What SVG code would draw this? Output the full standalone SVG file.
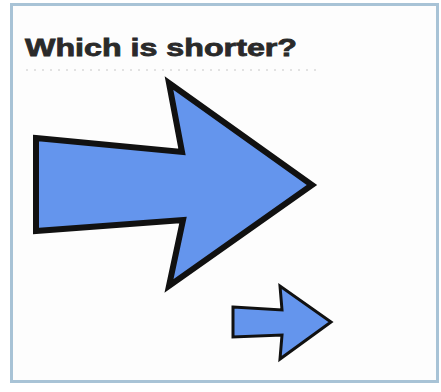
<svg xmlns="http://www.w3.org/2000/svg" width="441" height="392" viewBox="0 0 441 392">
<style>
.arrow{fill:#6495ed;stroke:#111;stroke-linejoin:miter;}
.title{font-family:"Liberation Sans",Arial,sans-serif;font-weight:bold;fill:#2a2a2a;stroke:#2a2a2a;stroke-width:0.8;}
</style>
<rect x="0" y="0" width="441" height="392" fill="#ffffff"/>
<rect x="11.5" y="4.5" width="426" height="377" fill="#fdfdfd" stroke="#a8c3d6" stroke-width="3"/>
<line x1="26" y1="70" x2="320" y2="70" stroke="#e2e2e2" stroke-width="2" stroke-dasharray="2 6"/>
<g id="title"><text class="title" x="25" y="56" font-size="24" textLength="272" lengthAdjust="spacingAndGlyphs">Which is shorter?</text></g>
<g id="big-arrow"><polygon class="arrow" stroke-width="6" points="36,138 182,152 169,83 312,185 169,286 183,220 36,231"/></g>
<g id="small-arrow"><polygon class="arrow" stroke-width="3" points="233,307 282,310 280,286 331,322 280,359 282,335 233,337"/></g>
</svg>
